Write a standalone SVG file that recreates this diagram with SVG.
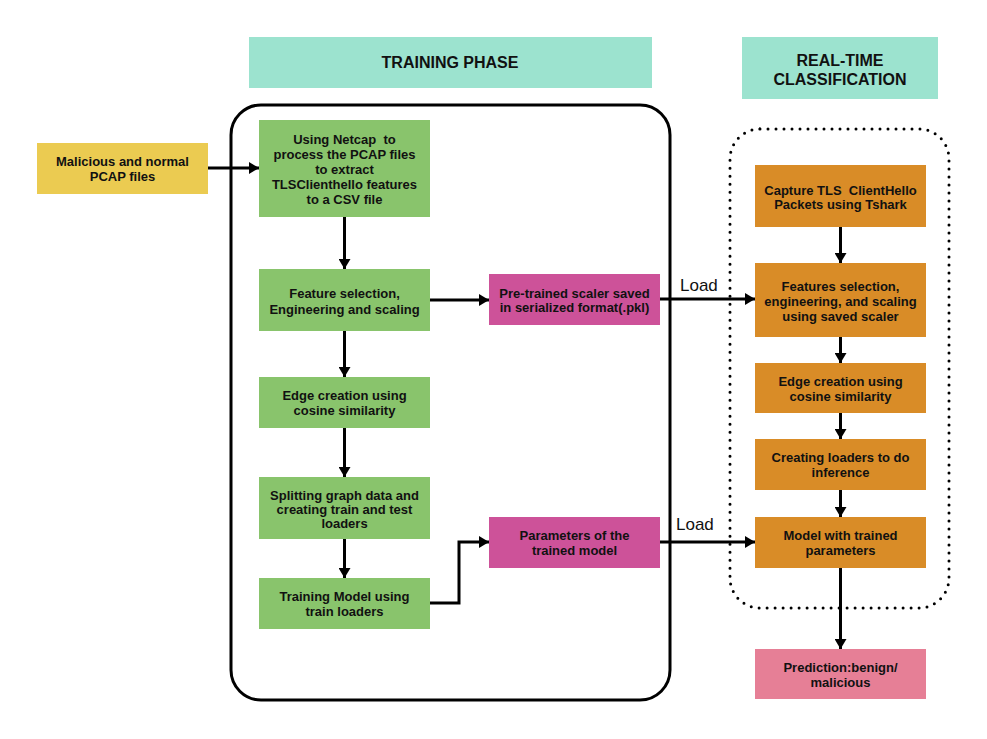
<svg xmlns="http://www.w3.org/2000/svg" width="987" height="739" viewBox="0 0 987 739">
<defs>
<marker id="ah" markerWidth="10" markerHeight="12" refX="10" refY="6" orient="auto" markerUnits="userSpaceOnUse">
<path d="M0,0 L10,6 L0,12 Z" fill="#000"/>
</marker>
<style>
.t{font-family:"Liberation Sans",Arial,sans-serif;font-weight:bold;font-size:13px;fill:#111;text-anchor:middle;white-space:pre}
.h{font-family:"Liberation Sans",Arial,sans-serif;font-weight:bold;font-size:16px;fill:#111;text-anchor:middle}
.l{font-family:"Liberation Sans",Arial,sans-serif;font-size:17px;fill:#111}
.c{fill:none;stroke:#000;stroke-width:3;marker-end:url(#ah)}
.g{fill:#89C46C}
.o{fill:#D98C27}
.m{fill:#CD5299}
.hd{fill:#9CE3CF}
</style>
</defs>
<rect width="987" height="739" fill="#fff"/>

<g id="header-training">
<rect class="hd" x="249" y="37" width="403" height="51"/>
<text class="h" x="450" y="68">TRAINING PHASE</text>
</g>
<g id="header-realtime">
<rect class="hd" x="742" y="37" width="196" height="62"/>
<text class="h" x="840" y="66">REAL-TIME</text>
<text class="h" x="840" y="85">CLASSIFICATION</text>
</g>

<g id="training-container">
<rect x="231" y="105" width="439" height="595" rx="30" fill="none" stroke="#000" stroke-width="3"/>
</g>
<g id="realtime-container">
<rect x="730" y="129" width="219" height="479" rx="30" fill="none" stroke="#000" stroke-width="3" stroke-linecap="round" stroke-dasharray="0 8"/>
</g>

<g id="connectors">
<line class="c" x1="208" y1="168" x2="259" y2="168"/>
<line class="c" x1="344.5" y1="217" x2="344.5" y2="269"/>
<line class="c" x1="430" y1="300" x2="489" y2="300"/>
<line class="c" x1="344.5" y1="331" x2="344.5" y2="377"/>
<line class="c" x1="344.5" y1="428" x2="344.5" y2="477"/>
<line class="c" x1="344.5" y1="539" x2="344.5" y2="578"/>
<polyline class="c" points="430,603 459,603 459,542 489,542"/>
<line class="c" x1="660" y1="299" x2="755" y2="299"/>
<line class="c" x1="660" y1="542" x2="755" y2="542"/>
<line class="c" x1="840.5" y1="227" x2="840.5" y2="263"/>
<line class="c" x1="840.5" y1="337" x2="840.5" y2="363"/>
<line class="c" x1="840.5" y1="413" x2="840.5" y2="439"/>
<line class="c" x1="840.5" y1="490" x2="840.5" y2="517"/>
<line class="c" x1="840.5" y1="568" x2="840.5" y2="649"/>
<text class="l" x="680" y="291">Load</text>
<text class="l" x="676" y="530">Load</text>
</g>

<g id="input">
<rect x="37" y="143" width="171" height="51" fill="#EBCB51"/>
<text class="t" x="122.5" y="166">Malicious and normal</text>
<text class="t" x="122.5" y="181">PCAP files</text>
</g>

<g id="netcap">
<rect class="g" x="259" y="120" width="171" height="97"/>
<text class="t" x="344.5" y="144" xml:space="preserve">Using Netcap  to</text>
<text class="t" x="344.5" y="159">process the PCAP files</text>
<text class="t" x="344.5" y="174">to extract</text>
<text class="t" x="344.5" y="189">TLSClienthello features</text>
<text class="t" x="344.5" y="204">to a CSV file</text>
</g>
<g id="feature-selection">
<rect class="g" x="259" y="269" width="171" height="62"/>
<text class="t" x="344.5" y="297.5">Feature selection,</text>
<text class="t" x="344.5" y="313.5">Engineering and scaling</text>
</g>
<g id="edge-creation">
<rect class="g" x="259" y="377" width="171" height="51"/>
<text class="t" x="344.5" y="400">Edge creation using</text>
<text class="t" x="344.5" y="415">cosine similarity</text>
</g>
<g id="splitting">
<rect class="g" x="259" y="477" width="171" height="62"/>
<text class="t" x="344.5" y="499.5">Splitting graph data and</text>
<text class="t" x="344.5" y="513.5">creating train and test</text>
<text class="t" x="344.5" y="527.5">loaders</text>
</g>
<g id="training-model">
<rect class="g" x="259" y="578" width="171" height="51"/>
<text class="t" x="344.5" y="601">Training Model using</text>
<text class="t" x="344.5" y="616">train loaders</text>
</g>

<g id="scaler">
<rect class="m" x="489" y="274" width="171" height="51"/>
<text class="t" x="574.5" y="297.5">Pre-trained scaler saved</text>
<text class="t" x="574.5" y="312">in serialized format(.pkl)</text>
</g>
<g id="parameters">
<rect class="m" x="489" y="517" width="171" height="51"/>
<text class="t" x="574.5" y="540">Parameters of the</text>
<text class="t" x="574.5" y="555">trained model</text>
</g>

<g id="capture">
<rect class="o" x="755" y="165" width="171" height="62"/>
<text class="t" x="840.5" y="194.5" xml:space="preserve">Capture TLS  ClientHello</text>
<text class="t" x="840.5" y="209">Packets using Tshark</text>
</g>
<g id="rt-features">
<rect class="o" x="755" y="263" width="171" height="74"/>
<text class="t" x="840.5" y="291">Features selection,</text>
<text class="t" x="840.5" y="306">engineering, and scaling</text>
<text class="t" x="840.5" y="321">using saved scaler</text>
</g>
<g id="rt-edge">
<rect class="o" x="755" y="363" width="171" height="50"/>
<text class="t" x="840.5" y="385.5">Edge creation using</text>
<text class="t" x="840.5" y="400.5">cosine similarity</text>
</g>
<g id="rt-loaders">
<rect class="o" x="755" y="439" width="171" height="51"/>
<text class="t" x="840.5" y="462">Creating loaders to do</text>
<text class="t" x="840.5" y="477">inference</text>
</g>
<g id="rt-model">
<rect class="o" x="755" y="517" width="171" height="51"/>
<text class="t" x="840.5" y="540">Model with trained</text>
<text class="t" x="840.5" y="555">parameters</text>
</g>
<g id="prediction">
<rect x="755" y="649" width="171" height="50" fill="#E67F96"/>
<text class="t" x="840.5" y="671.5">Prediction:benign/</text>
<text class="t" x="840.5" y="686.5">malicious</text>
</g>
</svg>
